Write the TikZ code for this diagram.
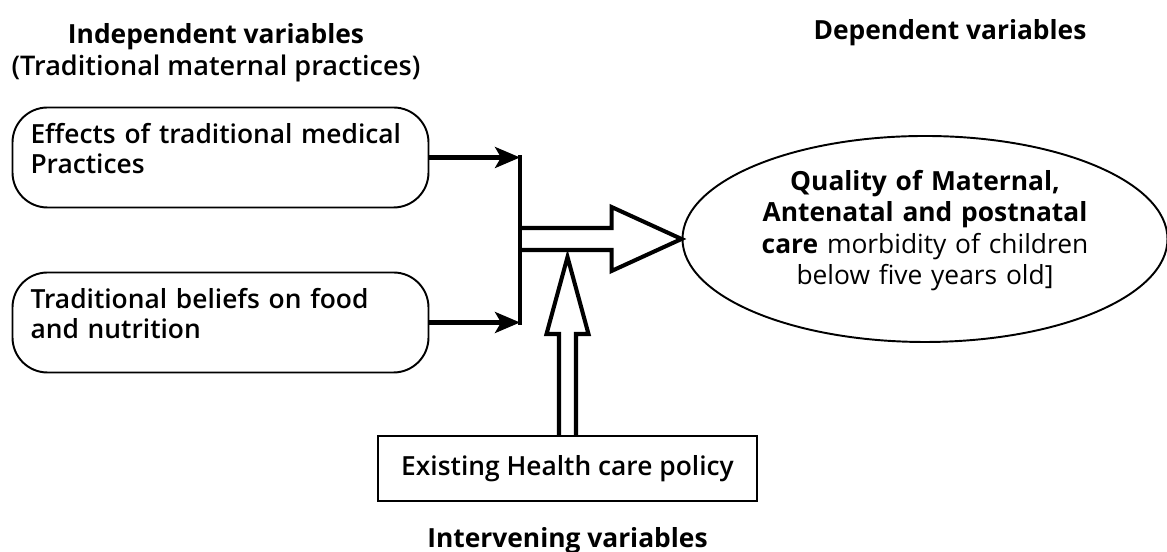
\documentclass[tikz,border=0pt]{standalone}
\usepackage{fontspec}
\setmainfont{Open Sans}
\IfFontExistsTF{Open Sans Semibold}{\newfontfamily\semibold{Open Sans Semibold}}{%
  \IfFontExistsTF{Open Sans SemiBold Regular}{\newfontfamily\semibold{Open Sans SemiBold Regular}}{\newfontfamily\semibold{Open Sans}}}
\usetikzlibrary{positioning,calc,arrows.meta,shapes.geometric}

\begin{document}
\begin{tikzpicture}[
    node distance=3.3cm,
    every node/.style={align=center, font=\fontsize{15}{18}\selectfont},
    block/.style={rectangle, rounded corners=0.7cm, draw=black, line width=1.1pt, minimum width=8.32cm, minimum height=2cm, text width=7.6cm, text depth=0.96cm, align=left, font=\fontsize{15}{17}\selectfont\semibold},
    policybox/.style={rectangle, draw=black, line width=1.1pt, minimum width=7.58cm, minimum height=1.3cm, font=\fontsize{15}{18}\selectfont\semibold},
    outcome/.style={ellipse, draw=black, line width=1.1pt, minimum width=9.7cm, minimum height=4.12cm, inner sep=0pt, text width=6.6cm, text depth=2.36cm},
    arrow/.style={-{Stealth[length=5mm, width=4.2mm, inset=1.2mm]}, line width=2.3pt},
    bar/.style={line width=2.3pt, line cap=rect},
    hollow/.style={line width=2.3pt, line join=miter}
]
    \useasboundingbox (0,0) rectangle (23.34,11.04);

    % Headings
    \node (indep) at (4.32,9.98) {\textbf{Independent variables}\\{\fontsize{15.4}{18}\selectfont\semibold(Traditional maternal practices)}};
    \node[anchor=base] (dep) at (19.0,10.24) {\textbf{Dependent variables}};

    % Nodes
    \node[block] (medical) at (4.41,7.89) {Effects of traditional medical\\Practices};
    \node[block, below of=medical] (beliefs) {Traditional beliefs on food\\and nutrition};
    \node[outcome] (quality) at (18.5,6.26) {\textbf{Quality of Maternal,}\\\textbf{Antenatal and postnatal}\\\textbf{care} morbidity of children\\below five years old]};
    \node[policybox] (policy) at (11.35,1.67) {Existing Health care policy};
    \node[anchor=base] (interv) at (11.35,0.08) {\textbf{Intervening variables}};
    \coordinate (spine) at (10.4,6.26);

    % Arrows
    \draw[arrow] (medical.east) -- (medical.east -| spine);
    \draw[arrow] (beliefs.east) -- (beliefs.east -| spine);
    \draw[bar] (medical.east -| spine) -- (beliefs.east -| spine);

    % Block arrows
    \draw[hollow] ($(spine)+(0,0.22)$) -- ($(quality.west)+(-1.4,0.22)$) -- ($(quality.west)+(-1.4,0.64)$) -- (quality.west) -- ($(quality.west)+(-1.4,-0.64)$) -- ($(quality.west)+(-1.4,-0.22)$) -- ($(spine)+(0,-0.22)$);
    \draw[hollow] ($(policy.north)+(-0.17,0)$) -- ($(policy.north)+(-0.17,2.02)$) -- ($(policy.north)+(-0.42,2.02)$) -- ($(policy.north)+(0,3.56)$) -- ($(policy.north)+(0.42,2.02)$) -- ($(policy.north)+(0.17,2.02)$) -- ($(policy.north)+(0.17,0)$);

\end{tikzpicture}
\end{document}
